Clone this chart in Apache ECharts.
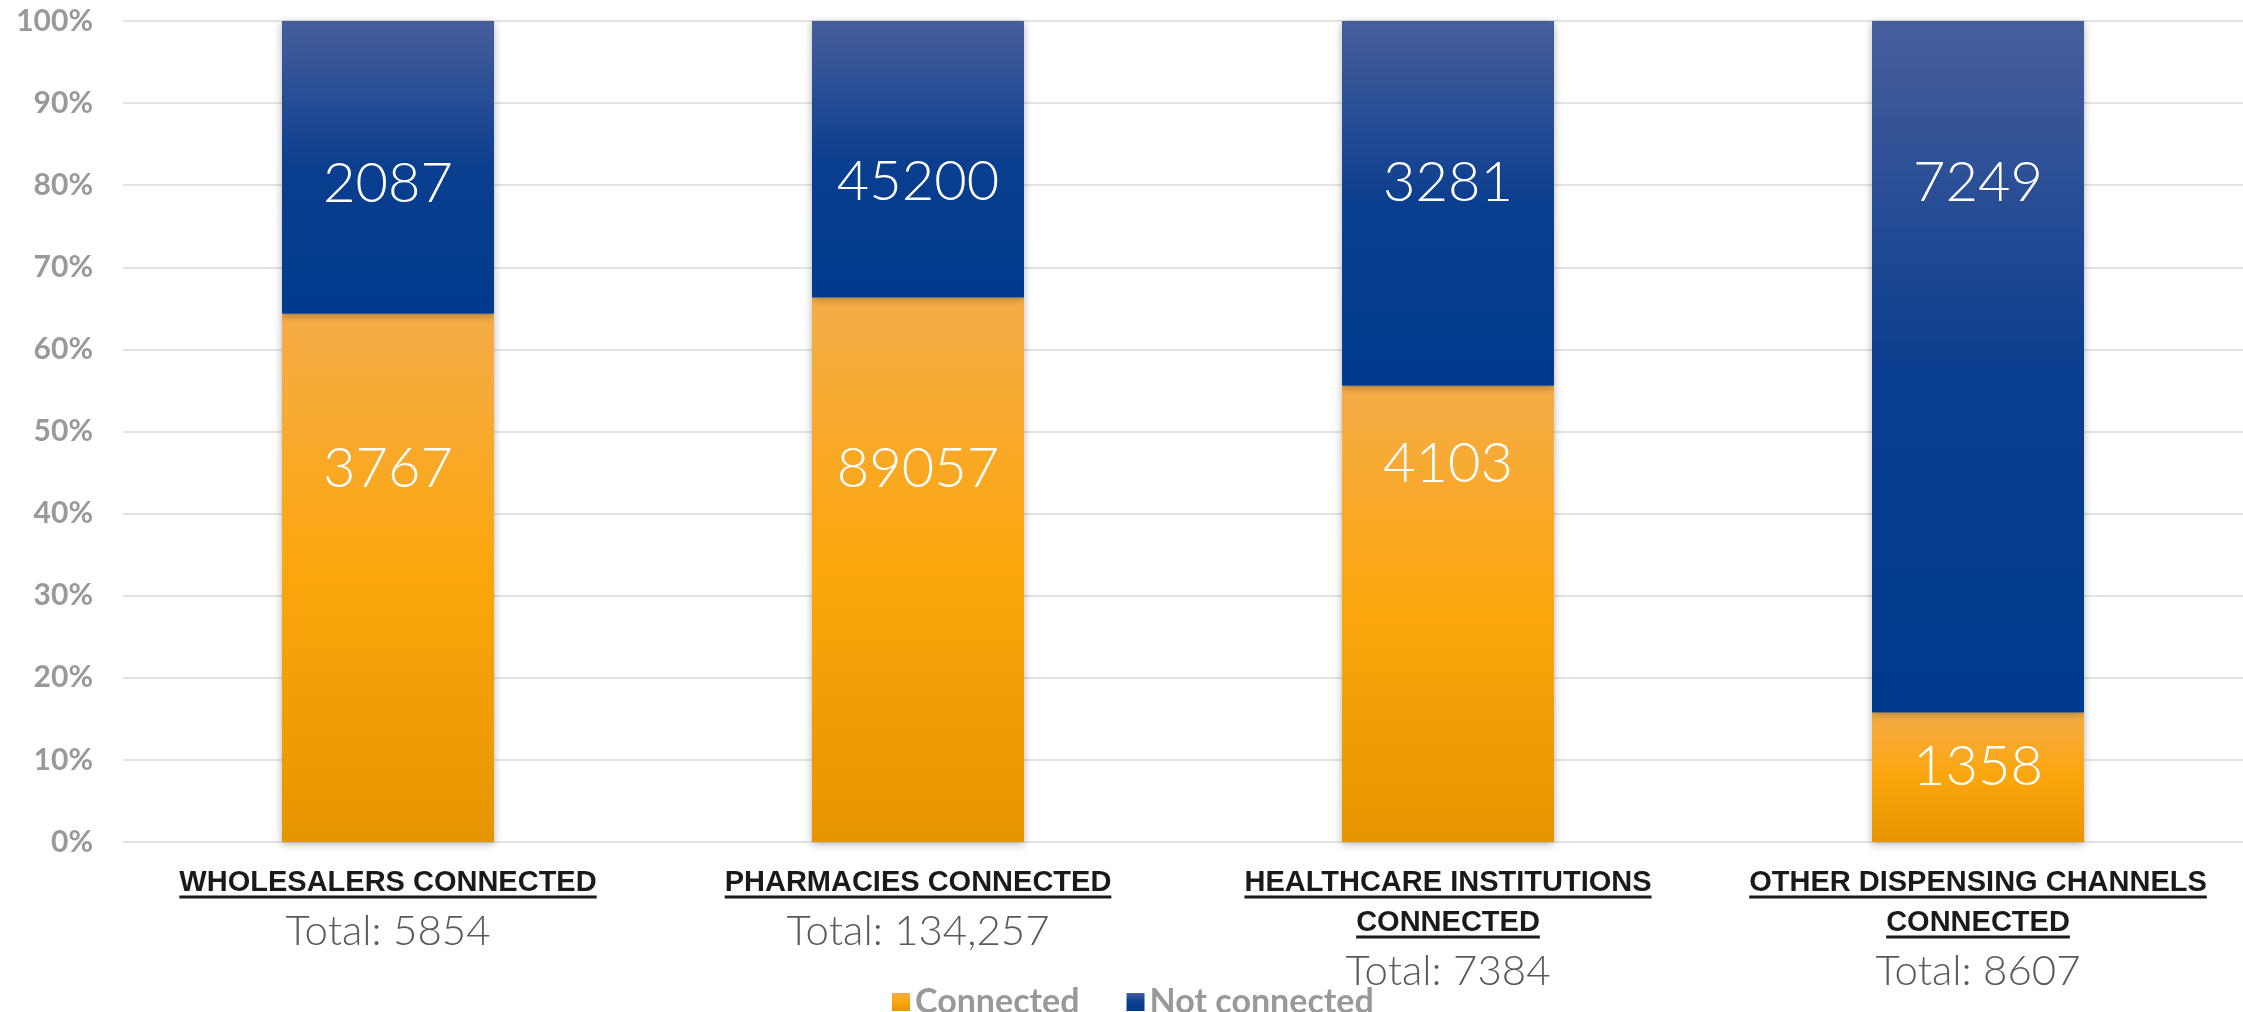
<!DOCTYPE html>
<html>
<head>
<meta charset="utf-8">
<title>Connected vs not connected</title>
<script src="https://cdn.jsdelivr.net/npm/echarts@6/dist/echarts.min.js"></script>
<style>
    html, body { margin: 0; padding: 0; background: #fff; }
    #main { width: 2243px; height: 1012px; }
</style>
</head>
<body>
<div id="main"></div>
<script>
// data
var categories = ['WHOLESALERS CONNECTED', 'PHARMACIES CONNECTED', 'HEALTHCARE INSTITUTIONS CONNECTED', 'OTHER DISPENSING CHANNELS CONNECTED'];
var connected = [3767, 89057, 4103, 1358];
var notConnected = [2087, 45200, 3281, 7249];
var totals = ['5854', '134,257', '7384', '8607'];
var yTicks = [0, 10, 20, 30, 40, 50, 60, 70, 80, 90, 100];

// where the value labels sit (percent of axis), they are not centred in the reference
var connectedLabelAt = [45.5, 45.5, 46.1, 9.2];
var notConnectedLabelAt = [80.1, 80.4, 80.3, 80.3];

var TITLE_FONT = 'bold 29px "Liberation Sans"';
var TITLE_WRAP = 480;
var AXIS_MARGIN = 21;
var TITLE_LINE = 40;

var measureCtx = document.createElement('canvas').getContext('2d');
measureCtx.font = TITLE_FONT;

function wrapTitle(text) {
    var words = text.split(' ');
    var lines = [];
    var cur = '';
    for (var i = 0; i < words.length; i++) {
        var test = cur ? cur + ' ' + words[i] : words[i];
        if (cur && measureCtx.measureText(test).width > TITLE_WRAP) {
            lines.push(cur);
            cur = words[i];
        } else {
            cur = test;
        }
    }
    if (cur) lines.push(cur);
    return lines;
}

var titleLines = categories.map(wrapTitle);

// percent of each bar, label keeps the raw count
function buildData(values, labelAt, isTop) {
    var out = [];
    for (var i = 0; i < values.length; i++) {
        var total = connected[i] + notConnected[i];
        var pct = values[i] / total * 100;
        var top = isTop ? 100 : pct;
        // label y as a fraction of the segment rect, measured from its top
        var frac = (top - labelAt[i]) / pct * 100;
        out.push({
            value: pct,
            raw: values[i],
            label: { position: ['50%', frac + '%'] }
        });
    }
    return out;
}

function grad(stops) {
    return new echarts.graphic.LinearGradient(0, 0, 0, 1, stops);
}

var orange = grad([
    { offset: 0, color: '#F5AC48' },
    { offset: 0.5, color: '#FCA60C' },
    { offset: 1, color: '#E59500' }
]);
var blue = grad([
    { offset: 0, color: '#475E9C' },
    { offset: 0.5, color: '#0B3E8F' },
    { offset: 1, color: '#003A8C' }
]);

var valueLabel = {
    show: true,
    align: 'center',
    verticalAlign: 'middle',
    color: '#ffffff',
    fontFamily: 'Lato',
    fontWeight: 300,
    fontSize: 56,
    formatter: function (p) { return p.data.raw; }
};

var barShadow = {
    shadowBlur: 8,
    shadowColor: 'rgba(0,0,0,0.3)',
    shadowOffsetX: 0,
    shadowOffsetY: 2
};

var chart = echarts.init(document.getElementById('main'));

var option = {
    animation: false,
    backgroundColor: '#ffffff',
    grid: { left: 123, right: 0, top: 21, bottom: 170, containLabel: false },
    legend: {
        data: ['Connected', 'Not connected'],
        left: 887,
        top: 980,
        icon: 'rect',
        itemWidth: 18,
        itemHeight: 18,
        itemGap: 47,
        textStyle: { color: '#999999', fontWeight: 'bold', fontSize: 34, fontFamily: 'Lato' }
    },
    xAxis: {
        type: 'category',
        data: categories,
        axisLine: { show: false },
        axisTick: { show: false },
        axisLabel: {
            interval: 0,
            margin: AXIS_MARGIN,
            formatter: function (val, idx) {
                var lines = titleLines[idx].map(function (l) { return '{t|' + l + '}'; });
                return lines.join('\n') + '\n{s|Total: ' + totals[idx] + '}';
            },
            rich: {
                t: { fontFamily: 'Liberation Sans', fontWeight: 'bold', fontSize: 29, color: '#1a1a1a', lineHeight: TITLE_LINE },
                s: { fontFamily: 'Lato', fontWeight: 300, fontSize: 42, color: '#595959', lineHeight: 56 }
            }
        }
    },
    yAxis: {
        type: 'value',
        min: yTicks[0],
        max: yTicks[yTicks.length - 1],
        interval: yTicks[1] - yTicks[0],
        axisLine: { show: false },
        axisTick: { show: false },
        splitLine: { lineStyle: { color: '#E3E3E3', width: 2 } },
        axisLabel: {
            margin: 30,
            formatter: '{value}%',
            color: '#999999',
            fontWeight: 'bold',
            fontSize: 30,
            fontFamily: 'Lato'
        }
    },
    series: [
        {
            name: 'Connected',
            type: 'bar',
            stack: 'all',
            barWidth: '40%',
            itemStyle: Object.assign({ color: orange }, barShadow),
            label: valueLabel,
            data: buildData(connected, connectedLabelAt, false)
        },
        {
            name: 'Not connected',
            type: 'bar',
            stack: 'all',
            barWidth: '40%',
            itemStyle: Object.assign({ color: blue }, barShadow),
            label: valueLabel,
            data: buildData(notConnected, notConnectedLabelAt, true)
        }
    ]
};

chart.setOption(option);

// underline the category titles (rich text has no underline)
var axisY = chart.convertToPixel({ yAxisIndex: 0 }, 0);
var underlines = [];
for (var i = 0; i < categories.length; i++) {
    var cx = chart.convertToPixel({ xAxisIndex: 0 }, i);
    for (var k = 0; k < titleLines[i].length; k++) {
        var w = measureCtx.measureText(titleLines[i][k]).width;
        var y = axisY + AXIS_MARGIN + k * TITLE_LINE + TITLE_LINE / 2 + 14;
        underlines.push({
            type: 'line',
            silent: true,
            shape: { x1: cx - w / 2, y1: y, x2: cx + w / 2, y2: y },
            style: { stroke: '#1a1a1a', lineWidth: 3 }
        });
    }
}
chart.setOption({ graphic: underlines });
</script>
</body>
</html>
